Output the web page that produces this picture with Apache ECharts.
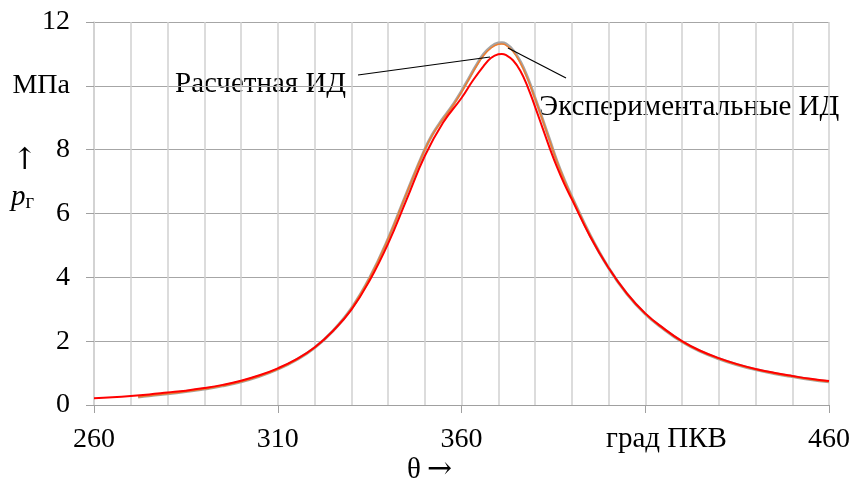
<!DOCTYPE html>
<html><head><meta charset="utf-8">
<script src="https://cdn.jsdelivr.net/npm/echarts@6/dist/echarts.min.js"></script>
<style>html,body{margin:0;padding:0;background:#fff}#c{width:854px;height:483px}</style>
</head><body><div id="c"></div>
<script>
// Calculated indicator diagram (red)
const thetaCalc = [260,265,270,275,280,285,290,295,300,305,310,315,320,325,330,335,340,345,350,355,360,363,366,368,370,371,372,374,376,378,380,382,384,386,388,390,395,400,405,410,415,420,425,430,435,440,445,450,455,460];
const pCalc = [0.21,0.24,0.28,0.33,0.39,0.45,0.53,0.63,0.76,0.93,1.15,1.43,1.8,2.32,2.98,3.9,5.05,6.42,7.8,8.85,9.62,10.15,10.62,10.87,10.99,11.0,10.97,10.8,10.47,9.97,9.35,8.7,8.05,7.45,6.92,6.45,5.28,4.3,3.5,2.87,2.4,2.0,1.7,1.47,1.28,1.13,1.01,0.91,0.82,0.75];
// Experimental indicator diagrams (gray, orange)
const thetaExp = [272,275,280,285,290,295,300,305,310,315,320,325,330,335,340,345,350,352,354,356,358,360,362,364,366,368,370,371,372,374,376,378,380,382,384,386,388,390,395,400,405,410,415,420,425,430,435,440,445,450,455,460];
const pExpOrange = [0.25,0.29,0.35,0.42,0.50,0.60,0.73,0.90,1.12,1.41,1.79,2.32,3.02,3.98,5.2,6.62,8.0,8.45,8.8,9.12,9.44,9.8,10.2,10.6,10.95,11.18,11.3,11.31,11.28,11.08,10.72,10.22,9.6,8.95,8.28,7.62,7.04,6.52,5.32,4.3,3.48,2.85,2.38,1.98,1.68,1.45,1.26,1.11,0.99,0.89,0.8,0.73];
const pExpGray = [0.25,0.29,0.35,0.42,0.50,0.60,0.73,0.90,1.12,1.41,1.79,2.32,3.02,3.98,5.2,6.62,8.0,8.46,8.82,9.14,9.46,9.83,10.23,10.64,10.99,11.22,11.34,11.35,11.32,11.12,10.76,10.25,9.62,8.97,8.3,7.63,7.05,6.53,5.32,4.3,3.48,2.85,2.38,1.98,1.68,1.45,1.26,1.11,0.99,0.89,0.8,0.73];
const xLabelTicks = [260,310,360,410,460];

const zip = (xs, ys) => xs.map((x, i) => [x, ys[i]]);
const FONT = '"Liberation Serif","Times New Roman",serif';

const chart = echarts.init(document.getElementById('c'), null, {renderer: 'canvas'});
chart.setOption({
  animation: false,
  backgroundColor: '#fff',
  grid: {left: 94, right: 25, top: 22, bottom: 78, containLabel: false},
  xAxis: [{
    type: 'value', min: 260, max: 460, interval: 10,
    axisLine: {show: true, lineStyle: {color: '#a0a0a0', width: 1}},
    axisTick: {show: true, customValues: xLabelTicks, length: 8, lineStyle: {color: '#a0a0a0'}},
    axisLabel: {customValues: xLabelTicks, margin: 21, fontFamily: FONT, fontSize: 28, color: '#000',
      formatter: v => v === 410 ? '' : String(v)},
    splitLine: {show: false},
    z: 3
  }, {
    type: 'value', min: 260, max: 460, interval: 10, position: 'bottom',
    axisLine: {show: false}, axisTick: {show: false}, axisLabel: {show: false},
    splitLine: {show: true, lineStyle: {color: '#d0d0d0', width: 1.5}}
  }],
  yAxis: {
    type: 'value', min: 0, max: 12, interval: 2,
    axisLine: {show: true, lineStyle: {color: '#d0d0d0', width: 1.5}},
    axisTick: {show: true, length: 8, lineStyle: {color: '#a0a0a0'}},
    axisLabel: {margin: 24, fontFamily: FONT, fontSize: 28, color: '#000',
      formatter: v => v === 10 ? 'МПа' : String(v)},
    splitLine: {show: true, lineStyle: {color: '#a6a6a6', width: 1}}
  },
  series: [
    {type: 'line', name: 'Эксп. 1', xAxisIndex: 0, data: zip(thetaExp, pExpGray), showSymbol: false, smooth: 0.45,
      lineStyle: {color: '#a5a5a5', width: 3}, z: 2},
    {type: 'line', name: 'Эксп. 2', xAxisIndex: 0, data: zip(thetaExp, pExpOrange), showSymbol: false, smooth: 0.45,
      lineStyle: {color: '#ed7d31', width: 1.5}, z: 3},
    {type: 'line', name: 'Расчетная ИД', xAxisIndex: 0, data: zip(thetaCalc, pCalc), showSymbol: false, smooth: 0.45,
      lineStyle: {color: '#ff0000', width: 2}, z: 4}
  ],
  graphic: [
    {type: 'text', left: 175, top: 70, style: {text: 'Расчетная ИД', font: '29px ' + FONT, fill: '#000'}},
    {type: 'line', shape: {x1: 358, y1: 75, x2: 490, y2: 57}, style: {stroke: '#000', lineWidth: 1.2}, z: 10},
    {type: 'text', left: 539, top: 93, style: {text: 'Экспериментальные ИД', font: '29px ' + FONT, fill: '#000'}},
    {type: 'line', shape: {x1: 566, y1: 78, x2: 508, y2: 48}, style: {stroke: '#000', lineWidth: 1.2}, z: 10},
    {type: 'text', left: 606, top: 425, style: {text: 'град ПКВ', font: '29px ' + FONT, fill: '#000'}},
    {type: 'text', left: 407, top: 455, style: {
      text: '{t|θ}{a|→}', rich: {
        t: {font: '29px ' + FONT, fill: '#000'},
        a: {font: '30px "DejaVu Serif",serif', fill: '#000', padding: [0, 0, 0, 6]}
      }}},
    {type: 'text', left: 12, top: 146, style: {text: '↑', font: '30px "DejaVu Serif",serif', fill: '#000'}},
    {type: 'text', left: 11, top: 183, style: {
      text: '{p|p}{s|г}', rich: {
        p: {font: 'italic 29px ' + FONT, fill: '#000'},
        s: {font: '21px ' + FONT, fill: '#000', padding: [10, 0, 0, 0]}
      }}}
  ]
});
</script></body></html>
